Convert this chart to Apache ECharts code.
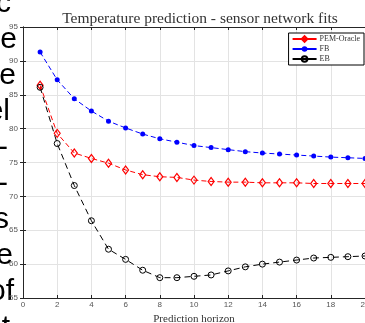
<!DOCTYPE html>
<html>
<head>
<meta charset="utf-8">
<script src="https://cdn.jsdelivr.net/npm/echarts@6/dist/echarts.min.js"></script>
<style>
  html, body { margin: 0; padding: 0; background: #fff; }
  #chart { width: 365px; height: 323px; }
</style>
</head>
<body>
<div id="chart"></div>
<script>
// prediction horizon steps
const horizon = [1, 2, 3, 4, 5, 6, 7, 8, 9, 10, 11, 12, 13, 14, 15, 16, 17, 18, 19, 20];
const pemOracle = [86.4, 79.3, 76.4, 75.6, 74.9, 73.9, 73.2, 72.9, 72.8, 72.4, 72.2, 72.1, 72.1, 72.0, 72.0, 72.0, 71.9, 71.9, 71.9, 71.9];
const fb = [91.3, 87.2, 84.4, 82.6, 81.1, 80.1, 79.2, 78.5, 78.0, 77.5, 77.2, 76.9, 76.6, 76.4, 76.25, 76.1, 75.95, 75.8, 75.7, 75.6];
const eb = [86.1, 77.8, 71.6, 66.4, 62.2, 60.7, 59.1, 58.0, 58.0, 58.2, 58.4, 59.0, 59.6, 60.0, 60.3, 60.6, 60.9, 61.0, 61.1, 61.2];

// cropped text running down the left edge
const sideText = ['c', 'e', 'e', 'el', '-', '-', 's', 'e', 'of', 't'];
const sideRight = [11, 17, 16, 10, 8, 8, 9, 13, 14, 10];

const chartDom = document.getElementById('chart');
const myChart = echarts.init(chartDom);

const pairs = (ys) => horizon.map((x, i) => [x, ys[i]]);
const serif = '"Liberation Serif", "DejaVu Serif", serif';
const axisColor = '#262626';

const option = {
  animation: false,
  title: {
    text: 'Temperature prediction - sensor network fits',
    left: 195,
    top: 6,
    textAlign: 'center',
    textStyle: { fontFamily: serif, fontSize: 15.5, fontWeight: 'normal', color: '#333' }
  },
  grid: { left: 23, right: 0, top: 27, bottom: 25, outerBoundsMode: 'none', containLabel: false },
  legend: {
    orient: 'vertical',
    right: 1,
    top: 33,
    itemWidth: 24,
    itemHeight: 7,
    itemGap: 2,
    padding: [2, 4, 2, 3],
    borderColor: '#000',
    borderWidth: 1,
    backgroundColor: '#fff',
    borderRadius: 0,
    lineStyle: { type: 'solid' },
    textStyle: { fontFamily: serif, fontSize: 8, color: '#333', padding: [0, 0, 0, -2] },
    data: ['PEM-Oracle', 'FB', 'EB']
  },
  xAxis: [
    {
      type: 'value',
      min: 0,
      max: 20,
      interval: 2,
      name: 'Prediction horizon',
      nameLocation: 'middle',
      nameGap: 14,
      nameTextStyle: { fontFamily: serif, fontSize: 11, color: '#333' },
      axisLine: { lineStyle: { color: axisColor, width: 1 } },
      axisTick: { inside: true, length: 3, lineStyle: { color: axisColor } },
      axisLabel: { fontFamily: 'Liberation Sans, Arial, sans-serif', fontSize: 8, color: '#555', margin: 3 },
      splitLine: { show: true, lineStyle: { color: '#e3e3e3', width: 1 } }
    },
    {
      type: 'value',
      position: 'top',
      min: 0,
      max: 20,
      interval: 2,
      axisLine: { show: true, lineStyle: { color: axisColor, width: 1 } },
      axisTick: { show: true, inside: true, length: 3, lineStyle: { color: axisColor } },
      axisLabel: { show: false },
      splitLine: { show: false }
    }
  ],
  yAxis: [
    {
      type: 'value',
      min: 55,
      max: 95,
      interval: 5,
      axisLine: { show: true, lineStyle: { color: axisColor, width: 1 } },
      axisTick: { show: true, inside: true, length: 3, lineStyle: { color: axisColor } },
      axisLabel: { fontFamily: 'Liberation Sans, Arial, sans-serif', fontSize: 8, color: '#555', margin: 5 },
      splitLine: { show: true, lineStyle: { color: '#e3e3e3', width: 1 } }
    },
    {
      type: 'value',
      position: 'right',
      min: 55,
      max: 95,
      interval: 5,
      axisLine: { show: true, lineStyle: { color: axisColor, width: 1 } },
      axisTick: { show: true, inside: true, length: 3, lineStyle: { color: axisColor } },
      axisLabel: { show: false },
      splitLine: { show: false }
    }
  ],
  series: [
    {
      name: 'PEM-Oracle',
      type: 'line',
      data: pairs(pemOracle),
      symbol: 'diamond',
      symbolSize: [6, 8],
      showAllSymbol: true,
      lineStyle: { color: '#ff0000', width: 1, type: [5, 3] },
      itemStyle: { color: 'rgba(255,255,255,0)', borderColor: '#ff0000', borderWidth: 1.2 },
      z: 3
    },
    {
      name: 'FB',
      type: 'line',
      data: pairs(fb),
      symbol: 'circle',
      symbolSize: 5,
      showAllSymbol: true,
      lineStyle: { color: '#0000ff', width: 1, type: [5, 3] },
      itemStyle: { color: '#0000ff', borderColor: '#0000ff', borderWidth: 0 },
      z: 3
    },
    {
      name: 'EB',
      type: 'line',
      data: pairs(eb),
      symbol: 'circle',
      symbolSize: 6,
      showAllSymbol: true,
      lineStyle: { color: '#000000', width: 1, type: [6, 4] },
      itemStyle: { color: 'rgba(255,255,255,0)', borderColor: '#000000', borderWidth: 1 },
      z: 3
    }
  ],
  graphic: sideText.map((t, i) => ({
    type: 'text',
    x: sideRight[i],
    y: 3.5 + i * 36,
    silent: true,
    style: {
      text: t,
      font: '30px "Liberation Sans", Arial, sans-serif',
      fill: '#000',
      textAlign: 'right',
      textVerticalAlign: 'middle'
    }
  }))
};

option && myChart.setOption(option);

window.onresize = () => {
  myChart.resize();
};
</script>
</body>
</html>
